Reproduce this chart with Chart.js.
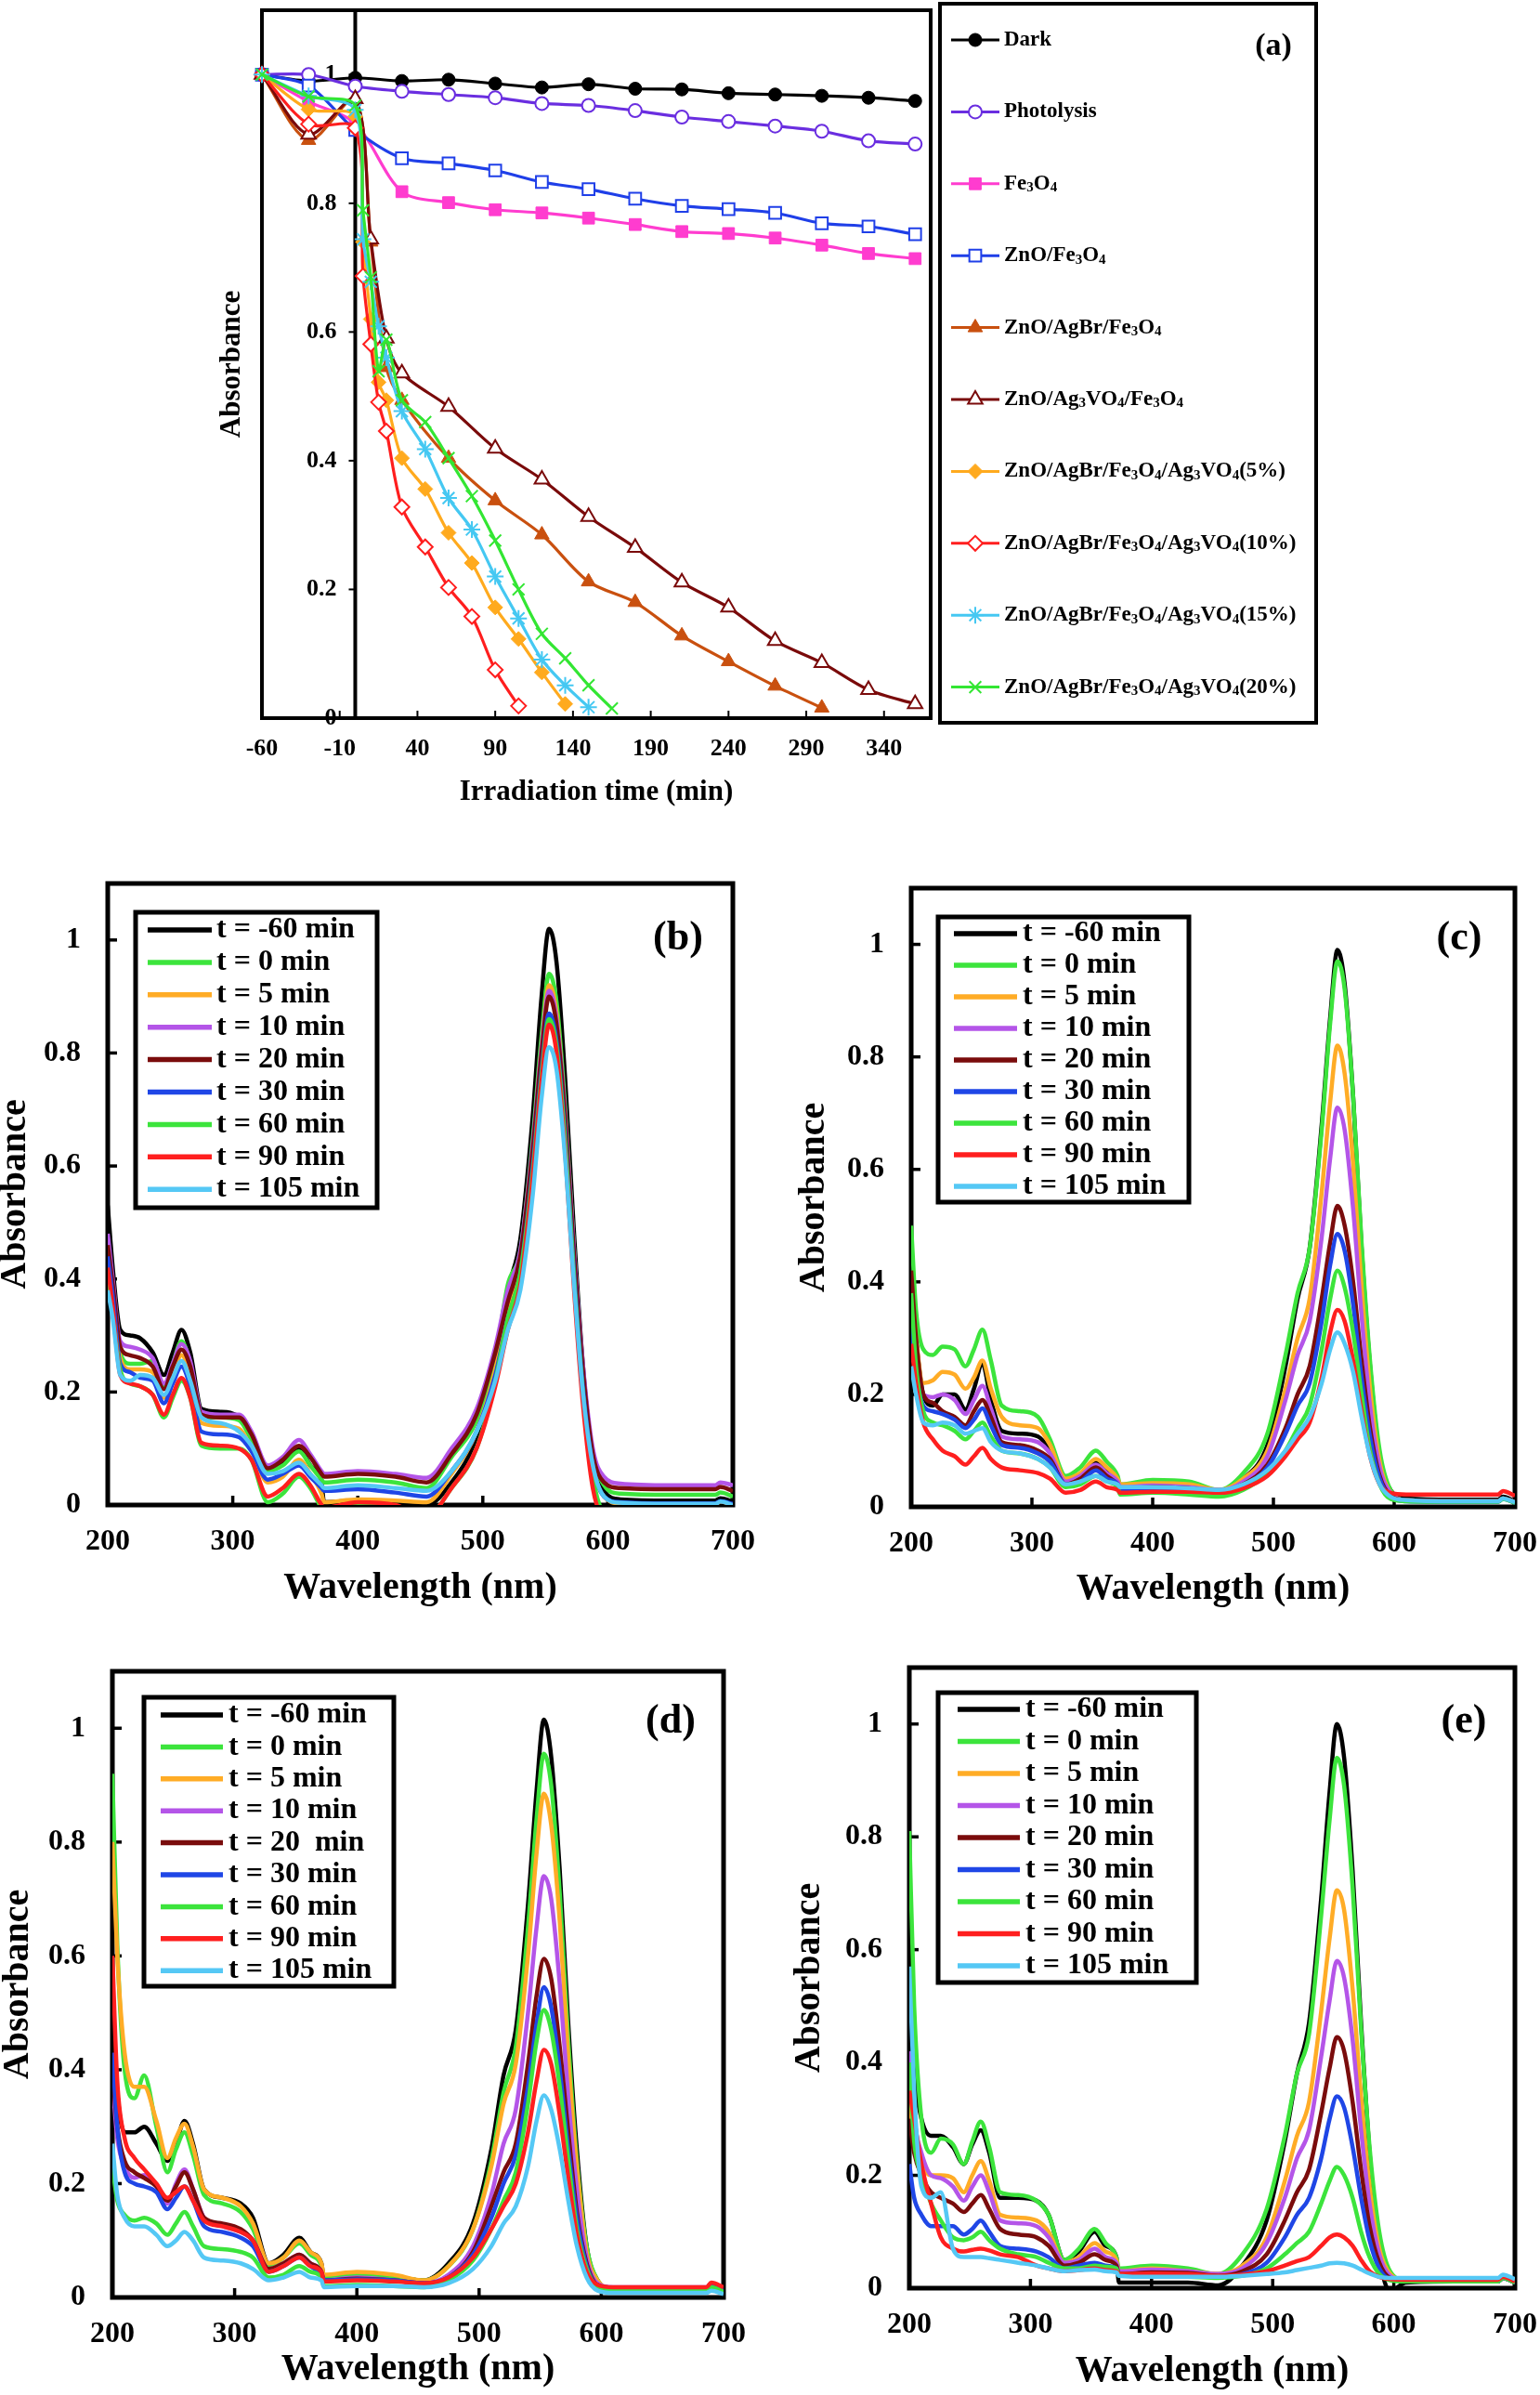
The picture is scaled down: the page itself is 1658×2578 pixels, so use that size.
<!DOCTYPE html>
<html><head><meta charset="utf-8">
<script src="https://cdn.jsdelivr.net/npm/chart.js@4.4.1/dist/chart.umd.min.js"></script>
<style>
html,body{margin:0;padding:0;background:#fff;overflow:hidden;}
body{width:1658px;height:2578px;position:relative;}
canvas{position:absolute;}
</style></head><body>
<canvas id="pa"></canvas><canvas id="pb"></canvas><canvas id="pc"></canvas><canvas id="pd"></canvas><canvas id="pe"></canvas>
<script>
// ===================== DATA =====================
// ---- panel (a) ----
const timeTicks = [-60,-10,40,90,140,190,240,290,340];
const timeTickLabels = ['-60','-10','40','90','140','190','240','290','340'];
const absTicks = [0,0.2,0.4,0.6,0.8,1];
const absTickLabels = ['0','0.2','0.4','0.6','0.8','1'];

const seriesNames = ['Dark','Photolysis','Fe₃O₄','ZnO/Fe₃O₄','ZnO/AgBr/Fe₃O₄','ZnO/Ag₃VO₄/Fe₃O₄',
  'ZnO/AgBr/Fe₃O₄/Ag₃VO₄(5%)','ZnO/AgBr/Fe₃O₄/Ag₃VO₄(10%)','ZnO/AgBr/Fe₃O₄/Ag₃VO₄(15%)','ZnO/AgBr/Fe₃O₄/Ag₃VO₄(20%)'];

const tSlow = [-60,-30,0,30,60,90,120,150,180,210,240,270,300,330,360];
const darkVals = [1.0,0.99,0.995,0.99,0.992,0.986,0.980,0.985,0.978,0.977,0.971,0.969,0.967,0.964,0.959];
const photolysisVals = [1.0,1.0,0.982,0.974,0.969,0.964,0.955,0.952,0.944,0.934,0.927,0.920,0.912,0.897,0.892];
const fe3o4Vals = [1.0,0.958,0.924,0.818,0.801,0.790,0.785,0.777,0.767,0.756,0.753,0.746,0.735,0.722,0.714];
const znoFe3o4Vals = [1.0,0.983,0.914,0.870,0.862,0.851,0.833,0.822,0.807,0.796,0.791,0.785,0.769,0.764,0.752];
const tAgBr = [-60,-30,0,10,20,30,60,90,120,150,180,210,240,270,300];
const znoAgBrVals = [1.0,0.898,0.962,0.74,0.545,0.494,0.404,0.338,0.285,0.212,0.180,0.128,0.088,0.050,0.016];
const tAg3VO4 = [-60,-30,0,10,20,30,60,90,120,150,180,210,240,270,300,330,360];
const znoAg3VO4Vals = [1.0,0.907,0.962,0.744,0.59,0.536,0.484,0.419,0.371,0.313,0.265,0.211,0.172,0.12,0.086,0.044,0.022];
const t5 = [-60,-30,0,5,10,15,20,30,45,60,75,90,105,120,135];
const q5Vals = [1.0,0.946,0.935,0.74,0.62,0.522,0.494,0.404,0.356,0.288,0.241,0.172,0.123,0.071,0.022];
const t10 = [-60,-30,0,5,10,15,20,30,45,60,75,90,105];
const q10Vals = [1.0,0.923,0.917,0.687,0.581,0.491,0.446,0.328,0.266,0.203,0.158,0.075,0.019];
const t15 = [-60,-30,0,5,10,15,20,30,45,60,75,90,105,120,135,150];
const q15Vals = [1.0,0.967,0.945,0.744,0.678,0.609,0.56,0.477,0.418,0.342,0.293,0.22,0.155,0.091,0.051,0.017];
const t20 = [-60,-30,0,5,10,15,20,30,45,60,75,90,105,120,135,150,165];
const q20Vals = [1.0,0.966,0.952,0.789,0.685,0.539,0.588,0.494,0.46,0.404,0.345,0.276,0.2,0.131,0.093,0.051,0.015];

// ---- panels (b)-(e) ----
const wavelengths = [200,204,210,218,226,236,245,252,259,266,275,290,305,315,328,340,353,362,371,373,400,430,455,475,495,510,520,530,540,547,553,559,566,573,580,588,597,610,650,686,690,700];
const wlTicks = [200,300,400,500,600,700];
const timeLabels = ['t = -60 min','t = 0 min','t = 5 min','t = 10 min','t = 20 min','t = 30 min','t = 60 min','t = 90 min','t = 105 min'];
const timeLabelsD = ['t = -60 min','t = 0 min','t = 5 min','t = 10 min','t = 20  min','t = 30 min','t = 60 min','t = 90 min','t = 105 min'];

const b_m60 = [0.53,0.42,0.31,0.30,0.295,0.27,0.23,0.27,0.31,0.27,0.17,0.165,0.155,0.12,0.06,0.075,0.10,0.07,0.04,0.005,0.008,0.005,0.0,0.04,0.12,0.25,0.38,0.47,0.69,0.90,1.02,0.96,0.75,0.48,0.25,0.08,0.025,0.01,0.008,0.008,0.012,0.006];
const b_0 = [0.40,0.36,0.27,0.25,0.25,0.255,0.21,0.25,0.29,0.25,0.155,0.155,0.15,0.115,0.06,0.07,0.095,0.07,0.045,0.04,0.045,0.04,0.03,0.085,0.15,0.26,0.39,0.45,0.65,0.83,0.94,0.89,0.70,0.45,0.24,0.09,0.035,0.02,0.018,0.018,0.022,0.015];
const b_5 = [0.44,0.38,0.26,0.24,0.24,0.235,0.19,0.23,0.265,0.23,0.145,0.14,0.135,0.10,0.04,0.05,0.08,0.055,0.02,0.005,0.01,0.008,0.005,0.055,0.13,0.24,0.35,0.43,0.63,0.81,0.92,0.87,0.68,0.43,0.22,0.07,0.015,0.003,0.002,0.002,0.006,0.0];
const b_10 = [0.48,0.40,0.29,0.28,0.275,0.26,0.215,0.25,0.285,0.255,0.165,0.16,0.16,0.13,0.07,0.085,0.115,0.09,0.06,0.055,0.06,0.055,0.048,0.10,0.17,0.28,0.38,0.45,0.64,0.81,0.91,0.86,0.69,0.45,0.25,0.10,0.05,0.038,0.035,0.035,0.04,0.035];
const b_20 = [0.46,0.39,0.28,0.265,0.26,0.245,0.205,0.245,0.275,0.245,0.16,0.155,0.155,0.125,0.065,0.08,0.105,0.085,0.055,0.05,0.055,0.05,0.04,0.09,0.16,0.27,0.36,0.44,0.63,0.80,0.90,0.85,0.68,0.44,0.24,0.09,0.04,0.03,0.028,0.028,0.032,0.025];
const b_30 = [0.44,0.37,0.25,0.235,0.225,0.22,0.18,0.215,0.245,0.21,0.13,0.125,0.12,0.095,0.045,0.055,0.07,0.05,0.03,0.025,0.028,0.022,0.015,0.06,0.13,0.23,0.33,0.41,0.60,0.77,0.87,0.82,0.65,0.41,0.21,0.07,0.015,0.005,0.003,0.003,0.007,0.002];
const b_60 = [0.40,0.34,0.24,0.215,0.21,0.195,0.155,0.19,0.22,0.19,0.105,0.10,0.10,0.08,0.005,0.02,0.05,0.03,-0.005,-0.01,-0.002,-0.005,-0.02,0.03,0.10,0.22,0.33,0.41,0.59,0.76,0.86,0.81,0.64,0.40,0.20,0.05,-0.01,-0.01,-0.01,-0.01,-0.005,-0.01];
const b_90 = [0.42,0.35,0.23,0.215,0.21,0.195,0.16,0.195,0.225,0.19,0.11,0.105,0.10,0.08,0.015,0.03,0.055,0.035,0.0,-0.005,0.005,0.0,-0.02,0.03,0.10,0.21,0.31,0.39,0.58,0.75,0.85,0.80,0.62,0.38,0.18,0.03,-0.02,-0.02,-0.02,-0.02,-0.015,-0.02];
const b_105 = [0.38,0.33,0.23,0.22,0.23,0.225,0.195,0.225,0.255,0.22,0.155,0.145,0.13,0.105,0.055,0.06,0.075,0.055,0.035,0.03,0.035,0.03,0.025,0.06,0.13,0.22,0.31,0.38,0.55,0.72,0.81,0.77,0.61,0.39,0.20,0.07,0.015,0.004,0.002,0.002,0.006,0.0];

const c_m60 = [0.41,0.30,0.20,0.18,0.20,0.20,0.173,0.21,0.255,0.19,0.135,0.13,0.125,0.10,0.045,0.055,0.08,0.065,0.045,0.035,0.035,0.033,0.028,0.05,0.11,0.25,0.37,0.46,0.68,0.87,0.99,0.93,0.73,0.46,0.25,0.09,0.03,0.015,0.013,0.013,0.018,0.01];
const c_0 = [0.50,0.35,0.28,0.27,0.285,0.28,0.25,0.28,0.315,0.26,0.18,0.17,0.16,0.12,0.055,0.07,0.10,0.08,0.055,0.04,0.048,0.045,0.03,0.06,0.13,0.27,0.38,0.46,0.67,0.86,0.97,0.92,0.73,0.47,0.26,0.10,0.03,0.012,0.01,0.01,0.015,0.008];
const c_5 = [0.40,0.30,0.22,0.225,0.24,0.235,0.21,0.23,0.26,0.21,0.16,0.145,0.14,0.11,0.05,0.06,0.085,0.07,0.05,0.04,0.042,0.04,0.03,0.05,0.10,0.21,0.30,0.37,0.56,0.72,0.82,0.77,0.61,0.39,0.21,0.08,0.025,0.012,0.01,0.01,0.015,0.008];
const c_10 = [0.35,0.26,0.20,0.195,0.20,0.19,0.165,0.19,0.215,0.175,0.125,0.12,0.115,0.095,0.045,0.055,0.075,0.06,0.045,0.035,0.038,0.035,0.03,0.045,0.09,0.19,0.27,0.33,0.48,0.62,0.71,0.67,0.53,0.34,0.18,0.07,0.025,0.012,0.01,0.01,0.015,0.008];
const c_20 = [0.42,0.30,0.20,0.185,0.17,0.16,0.145,0.17,0.19,0.16,0.115,0.11,0.10,0.085,0.04,0.05,0.07,0.055,0.04,0.033,0.035,0.033,0.028,0.04,0.075,0.14,0.20,0.25,0.37,0.47,0.535,0.50,0.40,0.26,0.14,0.055,0.02,0.012,0.01,0.01,0.015,0.008];
const c_30 = [0.33,0.24,0.18,0.17,0.165,0.155,0.14,0.155,0.175,0.145,0.11,0.105,0.095,0.08,0.04,0.045,0.065,0.05,0.04,0.03,0.033,0.03,0.026,0.038,0.07,0.13,0.18,0.22,0.33,0.43,0.485,0.455,0.36,0.23,0.125,0.05,0.018,0.01,0.009,0.009,0.014,0.007];
const c_60 = [0.38,0.25,0.17,0.15,0.145,0.135,0.12,0.135,0.15,0.125,0.10,0.095,0.085,0.07,0.035,0.04,0.055,0.045,0.035,0.022,0.025,0.022,0.018,0.03,0.06,0.10,0.14,0.18,0.28,0.37,0.42,0.39,0.31,0.20,0.10,0.04,0.014,0.01,0.009,0.009,0.014,0.007];
const c_90 = [0.29,0.22,0.15,0.12,0.10,0.09,0.075,0.09,0.105,0.085,0.07,0.065,0.06,0.05,0.025,0.03,0.045,0.035,0.03,0.025,0.027,0.027,0.025,0.033,0.055,0.09,0.12,0.15,0.23,0.31,0.35,0.33,0.26,0.17,0.09,0.04,0.025,0.022,0.022,0.022,0.028,0.02];
const c_105 = [0.25,0.20,0.15,0.145,0.15,0.145,0.13,0.135,0.14,0.115,0.10,0.095,0.085,0.07,0.04,0.045,0.055,0.045,0.04,0.035,0.035,0.033,0.03,0.04,0.065,0.10,0.13,0.16,0.22,0.28,0.31,0.29,0.24,0.16,0.09,0.04,0.018,0.012,0.01,0.01,0.015,0.008];

const d_m60 = [0.50,0.36,0.29,0.29,0.30,0.27,0.24,0.27,0.31,0.27,0.19,0.175,0.165,0.14,0.06,0.075,0.105,0.08,0.06,0.035,0.04,0.037,0.03,0.06,0.13,0.26,0.39,0.47,0.69,0.89,1.015,0.95,0.75,0.48,0.26,0.09,0.03,0.013,0.012,0.012,0.02,0.01];
const d_0 = [0.92,0.62,0.40,0.35,0.39,0.30,0.22,0.26,0.29,0.25,0.18,0.165,0.15,0.12,0.055,0.07,0.095,0.075,0.055,0.035,0.04,0.037,0.03,0.055,0.12,0.24,0.36,0.44,0.65,0.84,0.955,0.90,0.71,0.45,0.24,0.09,0.03,0.012,0.01,0.01,0.018,0.008];
const d_5 = [0.80,0.60,0.43,0.37,0.37,0.31,0.245,0.28,0.305,0.265,0.19,0.175,0.16,0.13,0.06,0.07,0.10,0.08,0.06,0.04,0.045,0.04,0.03,0.055,0.12,0.23,0.34,0.41,0.60,0.78,0.885,0.83,0.66,0.42,0.23,0.08,0.03,0.015,0.012,0.012,0.018,0.01];
const d_10 = [0.38,0.28,0.23,0.21,0.215,0.195,0.165,0.20,0.225,0.19,0.14,0.125,0.115,0.10,0.05,0.06,0.075,0.06,0.045,0.03,0.035,0.03,0.025,0.04,0.09,0.18,0.27,0.33,0.50,0.65,0.74,0.70,0.55,0.35,0.19,0.07,0.025,0.018,0.018,0.018,0.025,0.015];
const d_20 = [0.40,0.30,0.24,0.22,0.21,0.195,0.17,0.195,0.22,0.19,0.14,0.13,0.12,0.10,0.05,0.06,0.075,0.06,0.045,0.03,0.033,0.03,0.025,0.035,0.08,0.16,0.22,0.27,0.41,0.53,0.595,0.56,0.44,0.29,0.15,0.06,0.022,0.017,0.017,0.017,0.024,0.015];
const d_30 = [0.43,0.30,0.22,0.20,0.195,0.185,0.155,0.175,0.195,0.17,0.125,0.115,0.105,0.09,0.045,0.055,0.07,0.055,0.04,0.03,0.032,0.03,0.025,0.035,0.075,0.14,0.20,0.25,0.37,0.48,0.545,0.51,0.40,0.26,0.14,0.055,0.02,0.015,0.015,0.015,0.022,0.012];
const d_60 = [0.23,0.17,0.145,0.135,0.14,0.13,0.11,0.13,0.15,0.125,0.09,0.085,0.08,0.07,0.035,0.04,0.055,0.045,0.035,0.02,0.022,0.02,0.018,0.03,0.065,0.12,0.17,0.22,0.34,0.45,0.505,0.47,0.37,0.24,0.12,0.05,0.018,0.012,0.012,0.012,0.018,0.01];
const d_90 = [0.60,0.38,0.28,0.245,0.225,0.20,0.175,0.185,0.195,0.17,0.135,0.125,0.115,0.10,0.045,0.055,0.07,0.055,0.045,0.028,0.03,0.028,0.025,0.035,0.07,0.12,0.16,0.20,0.29,0.38,0.435,0.41,0.32,0.21,0.11,0.045,0.022,0.018,0.018,0.018,0.026,0.018];
const d_105 = [0.27,0.18,0.14,0.125,0.125,0.11,0.09,0.10,0.115,0.10,0.07,0.065,0.06,0.05,0.03,0.035,0.045,0.035,0.03,0.018,0.02,0.02,0.018,0.025,0.05,0.09,0.13,0.16,0.23,0.31,0.355,0.33,0.26,0.17,0.09,0.035,0.012,0.008,0.008,0.008,0.012,0.006];

const e_m60 = [0.48,0.38,0.30,0.27,0.27,0.25,0.22,0.255,0.28,0.24,0.16,0.16,0.155,0.13,0.05,0.065,0.10,0.075,0.055,0.01,0.01,0.01,0.005,0.04,0.12,0.26,0.38,0.47,0.69,0.88,1.0,0.94,0.74,0.47,0.24,0.06,-0.005,0.01,0.012,0.012,0.018,0.01];
const e_0 = [0.81,0.50,0.30,0.24,0.265,0.255,0.22,0.26,0.295,0.25,0.17,0.165,0.155,0.13,0.05,0.07,0.105,0.08,0.055,0.035,0.04,0.035,0.025,0.06,0.14,0.27,0.38,0.45,0.66,0.83,0.94,0.89,0.71,0.46,0.25,0.10,0.03,0.014,0.012,0.012,0.018,0.01];
const e_5 = [0.33,0.27,0.22,0.20,0.20,0.195,0.17,0.20,0.225,0.19,0.13,0.125,0.12,0.10,0.045,0.055,0.08,0.065,0.05,0.03,0.035,0.03,0.025,0.04,0.09,0.19,0.27,0.33,0.49,0.62,0.705,0.67,0.53,0.34,0.18,0.07,0.025,0.014,0.012,0.012,0.018,0.01];
const e_10 = [0.42,0.30,0.24,0.20,0.195,0.18,0.155,0.18,0.20,0.17,0.12,0.115,0.11,0.09,0.045,0.05,0.07,0.055,0.045,0.03,0.033,0.03,0.025,0.035,0.08,0.16,0.23,0.28,0.41,0.51,0.58,0.55,0.44,0.28,0.15,0.06,0.022,0.014,0.012,0.012,0.018,0.01];
const e_20 = [0.30,0.24,0.20,0.17,0.16,0.15,0.135,0.15,0.165,0.14,0.105,0.095,0.09,0.075,0.04,0.045,0.06,0.05,0.04,0.025,0.028,0.027,0.022,0.03,0.06,0.12,0.17,0.21,0.31,0.39,0.445,0.42,0.33,0.21,0.11,0.045,0.018,0.014,0.012,0.012,0.018,0.01];
const e_30 = [0.22,0.16,0.13,0.11,0.11,0.11,0.095,0.105,0.12,0.10,0.075,0.07,0.065,0.055,0.035,0.04,0.045,0.04,0.035,0.022,0.024,0.022,0.02,0.025,0.045,0.09,0.13,0.16,0.23,0.30,0.34,0.32,0.25,0.16,0.085,0.035,0.016,0.014,0.012,0.012,0.018,0.01];
const e_60 = [0.40,0.26,0.20,0.15,0.12,0.09,0.085,0.09,0.10,0.085,0.07,0.06,0.055,0.045,0.035,0.035,0.04,0.038,0.035,0.022,0.022,0.02,0.018,0.022,0.035,0.06,0.08,0.10,0.15,0.19,0.215,0.20,0.16,0.10,0.055,0.025,0.014,0.012,0.012,0.012,0.018,0.01];
const e_90 = [0.35,0.30,0.22,0.15,0.09,0.07,0.065,0.068,0.07,0.067,0.06,0.055,0.04,0.035,0.03,0.032,0.035,0.032,0.03,0.025,0.026,0.025,0.022,0.024,0.03,0.04,0.048,0.055,0.075,0.09,0.095,0.09,0.075,0.05,0.03,0.02,0.016,0.015,0.015,0.015,0.02,0.012];
const e_105 = [0.57,0.35,0.18,0.16,0.17,0.07,0.055,0.055,0.055,0.053,0.05,0.045,0.04,0.035,0.03,0.032,0.033,0.03,0.028,0.022,0.02,0.02,0.02,0.022,0.025,0.028,0.032,0.036,0.04,0.044,0.045,0.044,0.04,0.033,0.026,0.02,0.018,0.018,0.018,0.018,0.024,0.016];

// ===================== STYLE / BUILD =====================
const FONT = '"Liberation Serif", "Times New Roman", serif';
Chart.defaults.font.family = FONT;
Chart.defaults.color = '#000';

const aStyles = [
  {c:'#000000', ps:'circle',   r:7, fill:true},
  {c:'#6a2ee0', ps:'circle',   r:7, fill:false},
  {c:'#ff3ccf', ps:'rect',     r:9, fill:true},
  {c:'#1f3fe8', ps:'rect',     r:9, fill:false},
  {c:'#c9500f', ps:'triangle', r:9, fill:true},
  {c:'#7a0a0a', ps:'triangle', r:9, fill:false},
  {c:'#ffaa1e', ps:'rectRot',  r:8, fill:true},
  {c:'#ff1e1e', ps:'rectRot',  r:8, fill:false},
  {c:'#45c8f2', ps:'star',     r:9, fill:false},
  {c:'#33e633', ps:'crossRot', r:9, fill:false}
];
const specColors = ['#000000','#3ce43c','#ffac26','#b455e8','#7a0c0c','#1f46e6','#3ce43c','#ff1f1f','#55c8f5'];

function pts(xs, ys){ return xs.map((x,i)=>({x:x, y:ys[i]})); }
function line(ctx,x1,y1,x2,y2){ ctx.beginPath(); ctx.moveTo(x1,y1); ctx.lineTo(x2,y2); ctx.stroke(); }

const SUBS = '₀₁₂₃₄₅₆₇₈₉';
function drawRich(ctx, text, x, y, size){
  let cx = x;
  const runs = [];
  for (const ch of text){
    const sub = SUBS.indexOf(ch) >= 0;
    const c = sub ? String(SUBS.indexOf(ch)) : ch;
    if (runs.length && runs[runs.length-1].sub === sub) runs[runs.length-1].t += c;
    else runs.push({sub:sub, t:c});
  }
  ctx.textAlign = 'left'; ctx.textBaseline = 'middle';
  runs.forEach(r => {
    const s = r.sub ? Math.round(size*0.66) : size;
    ctx.font = 'bold ' + s + 'px ' + FONT;
    ctx.fillText(r.t, cx, r.sub ? y + size*0.2 : y);
    cx += ctx.measureText(r.t).width;
  });
}

const deco = {
  id: 'deco',
  beforeDatasetsDraw(chart, args, o){
    const ctx = chart.ctx, a = chart.chartArea, xs = chart.scales.x, ys = chart.scales.y;
    ctx.save();
    ctx.strokeStyle = '#000'; ctx.fillStyle = '#000';
    ctx.lineWidth = o.tickWidth;
    xs.ticks.forEach(t => {
      const px = xs.getPixelForValue(t.value);
      if (px > a.left + 4 && px < a.right - 4) line(ctx, px, a.bottom, px, a.bottom - o.tickLen);
    });
    if (o.zeroAxis){
      const x0 = xs.getPixelForValue(0);
      ctx.lineWidth = o.frameWidth;
      line(ctx, x0, a.top, x0, a.bottom);
      ctx.lineWidth = o.tickWidth;
      ctx.font = 'bold ' + o.zeroFont + 'px ' + FONT;
      ctx.textAlign = 'right'; ctx.textBaseline = 'middle';
      ys.ticks.forEach((t, i) => {
        const py = ys.getPixelForValue(t.value);
        line(ctx, x0 - o.zeroTick, py, x0, py);
        ctx.fillText(absTickLabels[i], x0 - o.zeroGap, py);
      });
    } else {
      ys.ticks.forEach(t => {
        const py = ys.getPixelForValue(t.value);
        if (py > a.top + 4 && py < a.bottom - 4) line(ctx, a.left, py, a.left + o.tickLen, py);
      });
    }
    ctx.lineWidth = o.frameWidth;
    ctx.strokeRect(a.left, a.top, a.right - a.left, a.bottom - a.top);
    ctx.restore();
  },
  afterDatasetsDraw(chart, args, o){
    const ctx = chart.ctx, ox = o.origin[0], oy = o.origin[1];
    ctx.save();
    if (o.legend){
      const L = o.legend;
      const x1 = L.box[0]-ox, y1 = L.box[1]-oy, x2 = L.box[2]-ox, y2 = L.box[3]-oy;
      ctx.fillStyle = '#fff'; ctx.fillRect(x1, y1, x2-x1, y2-y1);
      ctx.strokeStyle = '#000'; ctx.lineWidth = L.border; ctx.strokeRect(x1, y1, x2-x1, y2-y1);
      chart.data.datasets.forEach((ds, i) => {
        const y = L.rowTop + i*L.rowStep - oy;
        ctx.strokeStyle = ds.borderColor; ctx.lineWidth = L.lineWidth; ctx.lineCap = 'butt';
        line(ctx, L.lineX[0]-ox, y, L.lineX[1]-ox, y);
        if (L.markers && Chart.helpers && Chart.helpers.drawPoint){
          ctx.fillStyle = ds.pointBackgroundColor; ctx.strokeStyle = ds.pointBorderColor;
          ctx.lineWidth = ds.pointBorderWidth;
          Chart.helpers.drawPoint(ctx, {pointStyle: ds.pointStyle, radius: ds.pointRadius, rotation: 0, borderWidth: ds.pointBorderWidth}, (L.lineX[0]+L.lineX[1])/2 - ox, y);
        }
        ctx.fillStyle = '#000';
        drawRich(ctx, ds.label, L.textX - ox, y, L.font);
      });
    }
    if (o.panelLabel){
      const p = o.panelLabel;
      ctx.fillStyle = '#000'; ctx.font = 'bold ' + p.size + 'px ' + FONT;
      ctx.textAlign = 'center'; ctx.textBaseline = 'middle';
      ctx.fillText(p.text, p.x - ox, p.y - oy);
    }
    ctx.restore();
  }
};

function setupCanvas(id, x, y, w, h){
  const cv = document.getElementById(id);
  cv.width = w; cv.height = h;
  cv.style.left = x + 'px'; cv.style.top = y + 'px';
  cv.style.width = w + 'px'; cv.style.height = h + 'px';
  return cv;
}

// ---------- panel (a) ----------
(function(){
  const ox = 0, oy = 0, W = 1658, H = 900;
  const box = {L:282, T:5, R:1002, B:773};
  const cv = setupCanvas('pa', ox, oy, W, H);
  const times = [tSlow,tSlow,tSlow,tSlow,tAgBr,tAg3VO4,t5,t10,t15,t20];
  const vals = [darkVals,photolysisVals,fe3o4Vals,znoFe3o4Vals,znoAgBrVals,znoAg3VO4Vals,q5Vals,q10Vals,q15Vals,q20Vals];
  const datasets = seriesNames.map((name, i) => {
    const s = aStyles[i];
    return {
      label: name, data: pts(times[i], vals[i]),
      borderColor: s.c, backgroundColor: s.c, borderWidth: 3.2,
      pointStyle: s.ps, pointRadius: s.r, pointBorderWidth: s.fill ? 1 : 2,
      pointBorderColor: s.c, pointBackgroundColor: s.fill ? s.c : '#ffffff',
      tension: 0.3, clip: false, order: 10 - i
    };
  });
  new Chart(cv, {
    type: 'line',
    data: {datasets: datasets},
    plugins: [deco],
    options: {
      responsive: false, animation: false, devicePixelRatio: 1, events: [],
      layout: {padding: {left: 0, top: box.T - oy, right: W - box.R, bottom: 0}},
      plugins: {
        legend: {display: false}, tooltip: {enabled: false},
        deco: {
          origin: [ox, oy], tickWidth: 2, tickLen: 8, frameWidth: 4,
          zeroAxis: true, zeroFont: 26, zeroTick: 7, zeroGap: 20,
          legend: {box: [1012, 4, 1417, 778], border: 4, rowTop: 43, rowStep: 77.4,
                   lineX: [1024, 1076], textX: 1081, font: 23, lineWidth: 3, markers: true},
          panelLabel: {text: '(a)', x: 1371, y: 50, size: 34}
        }
      },
      scales: {
        x: {
          type: 'linear', min: -60, max: 370,
          afterBuildTicks: s => { s.ticks = timeTicks.map(v => ({value: v})); },
          afterFit: s => { s.height = H - box.B; },
          grid: {display: false, drawTicks: false}, border: {display: false},
          ticks: {font: {size: 26, weight: 'bold'}, color: '#000', padding: 18, maxRotation: 0, autoSkip: false,
                  callback: (v, i) => timeTickLabels[i]},
          title: {display: true, text: 'Irradiation time (min)', font: {size: 31, weight: 'bold'}, color: '#000',
                  padding: {top: 0, bottom: 28}}
        },
        y: {
          type: 'linear', min: 0, max: 1.1,
          afterBuildTicks: s => { s.ticks = absTicks.map(v => ({value: v})); },
          afterFit: s => { s.width = 282; },
          grid: {display: false, drawTicks: false}, border: {display: false},
          ticks: {display: false},
          title: {display: true, text: 'Absorbance', font: {size: 31, weight: 'bold'}, color: '#000',
                  padding: {top: 231, bottom: 0}}
        }
      }
    }
  });
})();

// ---------- panels (b)-(e) ----------
function spectra(id, box, series, labels, cfg){
  const PT = 60, PR = 60;
  const ox = box.L - 140, oy = box.T - PT;
  const W = (box.R + PR) - ox, H = (box.B + 135) - oy;
  const cv = setupCanvas(id, ox, oy, W, H);
  const datasets = series.map((arr, i) => ({
    label: labels[i], data: pts(wavelengths, arr),
    borderColor: specColors[i], backgroundColor: specColors[i], borderWidth: 4.5,
    pointRadius: 0, cubicInterpolationMode: 'monotone', fill: false, order: 9 - i
  }));
  new Chart(cv, {
    type: 'line',
    data: {datasets: datasets},
    plugins: [deco],
    options: {
      responsive: false, animation: false, devicePixelRatio: 1, events: [],
      layout: {padding: {left: 0, top: PT, right: PR, bottom: 0}},
      plugins: {
        legend: {display: false}, tooltip: {enabled: false},
        deco: {
          origin: [ox, oy], tickWidth: 3.5, tickLen: 10, frameWidth: 5, zeroAxis: false,
          legend: {box: cfg.legendBox, border: 5, rowTop: cfg.rowTop, rowStep: cfg.rowStep,
                   lineX: cfg.lineX, textX: cfg.textX, font: 32, lineWidth: 5.5, markers: false},
          panelLabel: {text: cfg.panel, x: cfg.panelX, y: cfg.panelY, size: 44}
        }
      },
      scales: {
        x: {
          type: 'linear', min: 200, max: 700,
          afterBuildTicks: s => { s.ticks = wlTicks.map(v => ({value: v})); },
          afterFit: s => { s.height = 135; },
          grid: {display: false, drawTicks: false}, border: {display: false},
          ticks: {font: {size: 32, weight: 'bold'}, color: '#000', padding: 21, maxRotation: 0, autoSkip: false,
                  callback: (v) => String(v)},
          title: {display: true, text: 'Wavelength (nm)', font: {size: 40, weight: 'bold'}, color: '#000',
                  padding: {top: 0, bottom: box.B + 111 - cfg.xTitleY}}
        },
        y: {
          type: 'linear', min: 0, max: 1.1,
          afterBuildTicks: s => { s.ticks = absTicks.map(v => ({value: v})); },
          afterFit: s => { s.width = 140; },
          grid: {display: false, drawTicks: false}, border: {display: false},
          ticks: {font: {size: 32, weight: 'bold'}, color: '#000', padding: 29, autoSkip: false,
                  callback: (v, i) => absTickLabels[i]},
          title: {display: true, text: 'Absorbance', font: {size: 40, weight: 'bold'}, color: '#000',
                  padding: {top: cfg.yTitleX - ox - 24, bottom: 0}}
        }
      }
    }
  });
}

spectra('pb', {L:116, T:951, R:789, B:1620},
  [b_m60,b_0,b_5,b_10,b_20,b_30,b_60,b_90,b_105], timeLabels,
  {legendBox:[146,982,406,1300], rowTop:1001, rowStep:34.9, lineX:[159,228], textX:233,
   panel:'(b)', panelX:730, panelY:1011, xTitleY:1710, yTitleX:17});
spectra('pc', {L:981, T:956, R:1631, B:1622},
  [c_m60,c_0,c_5,c_10,c_20,c_30,c_60,c_90,c_105], timeLabels,
  {legendBox:[1010,987,1280,1294], rowTop:1005, rowStep:34, lineX:[1027,1095], textX:1101,
   panel:'(c)', panelX:1571, panelY:1011, xTitleY:1711, yTitleX:877});
spectra('pd', {L:121, T:1799, R:779, B:2473},
  [d_m60,d_0,d_5,d_10,d_20,d_30,d_60,d_90,d_105], timeLabelsD,
  {legendBox:[155,1827,424,2138], rowTop:1846, rowStep:34.4, lineX:[173,240], textX:246,
   panel:'(d)', panelX:722, panelY:1854, xTitleY:2551, yTitleX:20});
spectra('pe', {L:979, T:1795, R:1631, B:2463},
  [e_m60,e_0,e_5,e_10,e_20,e_30,e_60,e_90,e_105], timeLabels,
  {legendBox:[1010,1822,1288,2134], rowTop:1840, rowStep:34.5, lineX:[1031,1098], textX:1104,
   panel:'(e)', panelX:1576, panelY:1854, xTitleY:2553, yTitleX:872});
</script>
</body></html>
